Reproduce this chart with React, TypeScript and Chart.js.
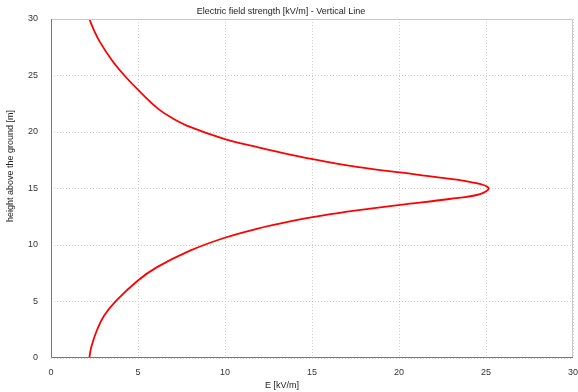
import React, { useEffect, useRef } from "react";
import { Chart, registerables } from "chart.js";

Chart.register(...registerables);

const titleText = "Electric field strength [kV/m] - Vertical Line";
const xTitle = "E [kV/m]";
const yTitle = "height above the ground [m]";

// Height above ground [m]
const heights = [
  0, 1, 2.5, 3.74, 5.07, 6.84, 8.02, 9.5, 10.62, 11.43, 12.09, 12.62, 13.06, 13.56, 14.07,
  14.5, 15.05, 15.53, 15.97, 16.42, 16.91, 17.42, 18.0, 18.68, 19.42, 20.45, 21.2, 22.0, 23.5,
  25.0, 26.35, 28, 29, 30,
];
// Electric field strength [kV/m]
const fieldValues = [
  2.2, 2.32, 2.65, 3.05, 3.75, 4.98, 6.07, 7.99, 9.94, 11.82, 13.74, 15.65, 17.57, 20.06, 22.9,
  24.66, 25.15, 24.27, 22.36, 20.06, 17.57, 15.65, 13.74, 11.82, 9.9, 7.99, 7.0, 6.2, 5.15,
  4.22, 3.5, 2.8, 2.47, 2.2,
];

const FONT = "'Liberation Sans', Arial, sans-serif";

export default function App() {
  const ref = useRef<HTMLCanvasElement | null>(null);

  useEffect(() => {
    document.body.style.margin = "0";
    const canvas = ref.current;
    if (!canvas) return;

    const textPlugin = {
      id: "customText",
      afterDraw(chart: any) {
        const ctx = chart.ctx;
        const a = chart.chartArea;
        ctx.save();
        ctx.strokeStyle = "#c8c8c8";
        ctx.lineWidth = 1;
        ctx.beginPath();
        ctx.moveTo(a.left, a.top + 0.5);
        ctx.lineTo(a.right - 0.5, a.top + 0.5);
        ctx.lineTo(a.right - 0.5, a.bottom);
        ctx.stroke();
        ctx.strokeStyle = "#777";
        ctx.beginPath();
        ctx.moveTo(a.left + 0.5, a.top);
        ctx.lineTo(a.left + 0.5, a.bottom - 0.5);
        ctx.lineTo(a.right, a.bottom - 0.5);
        ctx.stroke();

        ctx.fillStyle = "#222";
        ctx.font = `9px ${FONT}`;
        ctx.textAlign = "center";
        ctx.textBaseline = "middle";
        ctx.fillText(titleText, 281, 12);
        ctx.fillText(xTitle, 282, 386);
        ctx.translate(11, 166);
        ctx.rotate(-Math.PI / 2);
        ctx.fillText(yTitle, 0, 0);
        ctx.restore();
      },
    };

    const chart = new Chart(canvas, {
      type: "scatter",
      data: {
        datasets: [
          {
            data: heights.map((h, i) => ({ x: fieldValues[i], y: h })),
            showLine: true,
            borderColor: "#ff0000",
            backgroundColor: "#ff0000",
            borderWidth: 1.8,
            pointRadius: 0,
            tension: 0.4,
          },
        ],
      },
      options: {
        animation: false,
        responsive: false,
        maintainAspectRatio: false,
        layout: { padding: { top: 19, right: 5, left: 0, bottom: 0 } },
        plugins: { legend: { display: false }, tooltip: { enabled: false }, title: { display: false } },
        scales: {
          x: {
            type: "linear",
            min: 0,
            max: 30,
            ticks: { stepSize: 5, color: "#333", font: { size: 9, family: FONT }, padding: 9, maxRotation: 0 },
            grid: { color: "#d0d0d0", drawTicks: false },
            border: { display: false, dash: [1, 2] },
            afterFit(scale: any) {
              scale.height = 34;
              scale.paddingLeft = 0;
              scale.paddingRight = 0;
            },
          },
          y: {
            type: "linear",
            min: 0,
            max: 30,
            ticks: { stepSize: 5, color: "#333", font: { size: 9, family: FONT }, padding: 13 },
            grid: { color: "#d0d0d0", drawTicks: false },
            border: { display: false, dash: [1, 2] },
            afterFit(scale: any) {
              scale.width = 51;
              scale.paddingTop = 0;
              scale.paddingBottom = 0;
            },
          },
        },
      },
      plugins: [textPlugin],
    } as any);

    return () => chart.destroy();
  }, []);

  return (
    <div style={{ width: 578, height: 392, background: "#fff" }}>
      <canvas ref={ref} width={578} height={392} style={{ display: "block" }} />
    </div>
  );
}
